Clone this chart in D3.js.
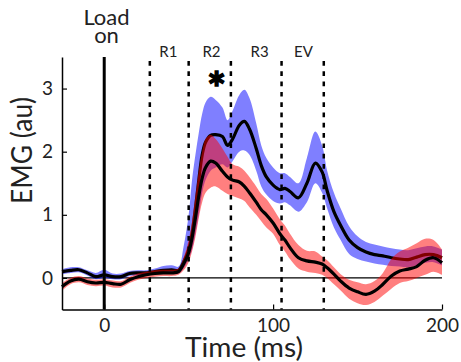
<!DOCTYPE html>
<html>
<head>
<meta charset="utf-8">
<script src="https://cdn.jsdelivr.net/npm/d3@7"></script>
<style>
  body { margin: 0; background: #fff; }
  text { font-family: Lato, 'Open Sans', sans-serif; fill: #222; }
</style>
</head>
<body>
<svg id="chart" width="461" height="362"></svg>
<script>
// time points (ms)
let times = [-25, -20, -15, -10, -5, 0, 5, 10, 15, 20, 25, 30, 35, 40, 44, 47, 50, 52, 54, 56, 58, 60, 63, 66, 70, 73, 76, 80, 83, 86, 90, 93, 96, 100, 104, 107, 110, 115, 120, 125, 129, 132, 136, 140, 145, 150, 155, 160, 165, 170, 175, 180, 185, 190, 195, 200];

// blue condition
let blueMean = [0.10, 0.12, 0.13, 0.08, 0.02, 0.05, 0.02, 0.02, 0.07, 0.08, 0.08, 0.10, 0.12, 0.13, 0.12, 0.25, 0.45, 0.70, 1.10, 1.55, 1.95, 2.15, 2.26, 2.27, 2.24, 2.10, 2.20, 2.42, 2.48, 2.36, 2.05, 1.78, 1.60, 1.47, 1.40, 1.42, 1.37, 1.27, 1.50, 1.82, 1.68, 1.38, 1.05, 0.83, 0.60, 0.48, 0.41, 0.37, 0.35, 0.32, 0.30, 0.29, 0.33, 0.37, 0.37, 0.32];
let blueHi = [0.14, 0.17, 0.17, 0.12, 0.08, 0.13, 0.07, 0.07, 0.11, 0.12, 0.12, 0.15, 0.19, 0.20, 0.18, 0.50, 1.00, 1.55, 1.95, 2.30, 2.60, 2.78, 2.87, 2.82, 2.70, 2.50, 2.65, 2.90, 2.98, 2.85, 2.45, 2.10, 1.90, 1.75, 1.66, 1.66, 1.60, 1.50, 1.90, 2.32, 2.10, 1.70, 1.35, 1.10, 0.82, 0.66, 0.57, 0.53, 0.50, 0.47, 0.45, 0.44, 0.47, 0.50, 0.50, 0.45];
let blueLo = [0.06, 0.08, 0.09, 0.04, -0.02, 0.00, -0.02, -0.02, 0.03, 0.04, 0.04, 0.06, 0.07, 0.08, 0.07, 0.15, 0.30, 0.45, 0.70, 1.00, 1.35, 1.55, 1.70, 1.75, 1.80, 1.75, 1.85, 2.00, 2.02, 1.95, 1.70, 1.45, 1.32, 1.22, 1.18, 1.20, 1.15, 1.05, 1.20, 1.50, 1.35, 1.10, 0.80, 0.60, 0.38, 0.30, 0.26, 0.23, 0.21, 0.19, 0.18, 0.17, 0.20, 0.24, 0.25, 0.20];

// red condition
let redMean = [-0.14, -0.05, -0.02, -0.06, -0.08, -0.07, -0.09, -0.10, -0.03, 0.02, 0.05, 0.07, 0.08, 0.08, 0.10, 0.22, 0.40, 0.63, 0.95, 1.30, 1.58, 1.75, 1.85, 1.82, 1.69, 1.60, 1.55, 1.52, 1.45, 1.35, 1.20, 1.08, 1.00, 0.87, 0.70, 0.60, 0.48, 0.32, 0.27, 0.25, 0.22, 0.16, 0.06, -0.05, -0.16, -0.22, -0.26, -0.21, -0.10, 0.03, 0.11, 0.14, 0.18, 0.28, 0.32, 0.24];
let redHi = [-0.08, 0.00, 0.03, -0.01, -0.03, -0.02, -0.04, -0.05, 0.02, 0.07, 0.10, 0.12, 0.13, 0.13, 0.15, 0.32, 0.60, 0.90, 1.30, 1.70, 2.00, 2.20, 2.27, 2.20, 2.05, 1.92, 1.80, 1.76, 1.70, 1.60, 1.45, 1.33, 1.25, 1.10, 0.93, 0.83, 0.70, 0.52, 0.43, 0.42, 0.34, 0.28, 0.17, 0.06, -0.03, -0.07, -0.10, -0.05, 0.08, 0.30, 0.42, 0.48, 0.55, 0.62, 0.60, 0.45];
let redLo = [-0.20, -0.10, -0.07, -0.11, -0.13, -0.12, -0.15, -0.15, -0.08, -0.03, 0.00, 0.02, 0.03, 0.03, 0.05, 0.12, 0.25, 0.42, 0.65, 0.95, 1.20, 1.35, 1.43, 1.45, 1.38, 1.33, 1.30, 1.26, 1.22, 1.12, 1.00, 0.90, 0.80, 0.70, 0.52, 0.42, 0.30, 0.15, 0.10, 0.08, 0.05, 0.00, -0.10, -0.20, -0.33, -0.40, -0.43, -0.38, -0.28, -0.17, -0.08, -0.05, 0.00, 0.05, 0.10, 0.05];

// window boundaries and labels
let windowLines = [27, 50, 75, 105, 130];
let windowNames = ['R1', 'R2', 'R3', 'EV'];
let windowLabelPos = [38, 63.5, 92, 118];
let starPos = 66.5;

let xTicks = [0, 100, 200];
let yTicks = [0, 1, 2, 3];

const svg = d3.select('#chart');

const x = d3.scaleLinear().domain([-25, 200]).range([62, 442]);
const y = d3.scaleLinear().domain([-0.5, 3.5]).range([309.5, 57]);

function series(mean, lo, hi) {
  return times.map((t, i) => ({ t: t, m: mean[i], lo: lo[i], hi: hi[i] }));
}

const band = d3.area()
  .x((d) => x(d.t))
  .y0((d) => y(d.lo))
  .y1((d) => y(d.hi))
  .curve(d3.curveCatmullRom);

const line = d3.line()
  .x((d) => x(d.t))
  .y((d) => y(d.m))
  .curve(d3.curveCatmullRom);

let blue = series(blueMean, blueLo, blueHi);
let red = series(redMean, redLo, redHi);

// zero line
svg.append('line')
  .attr('x1', x(-25))
  .attr('x2', x(200))
  .attr('y1', y(0))
  .attr('y2', y(0))
  .style('stroke', '#000')
  .style('stroke-width', 1.2);

// blue band + mean, then red band on top (gives the purple and dark red)
svg.append('path')
  .attr('d', band(blue))
  .style('fill', 'rgb(0,0,255)')
  .style('fill-opacity', 0.5);

svg.append('path')
  .attr('d', line(blue))
  .style('fill', 'none')
  .style('stroke', '#000')
  .style('stroke-width', 3.2);

svg.append('path')
  .attr('d', band(red))
  .style('fill', 'rgb(255,0,0)')
  .style('fill-opacity', 0.5);

svg.append('path')
  .attr('d', line(red))
  .style('fill', 'none')
  .style('stroke', '#000')
  .style('stroke-width', 3.2);

// dashed window lines
svg.selectAll('.win')
  .data(windowLines)
  .join('line')
  .attr('class', 'win')
  .attr('x1', (d) => x(d))
  .attr('x2', (d) => x(d))
  .attr('y1', 61)
  .attr('y2', y(-0.5))
  .style('stroke', '#000')
  .style('stroke-width', 2.5)
  .style('stroke-dasharray', '4.7,5.6');

svg.selectAll('.winlabel')
  .data(windowNames)
  .join('text')
  .attr('class', 'winlabel')
  .attr('x', (d, i) => x(windowLabelPos[i]))
  .attr('y', 57)
  .attr('text-anchor', 'middle')
  .style('font-size', '15px')
  .text((d) => d);

svg.append('text')
  .attr('x', x(starPos))
  .attr('y', 104)
  .attr('text-anchor', 'middle')
  .style('font-size', '44px')
  .style('font-weight', 'bold')
  .style('fill', '#000')
  .style('stroke', '#000')
  .style('stroke-width', 1.6)
  .text('*');

// load on line
svg.append('line')
  .attr('x1', x(0))
  .attr('x2', x(0))
  .attr('y1', y(3.5))
  .attr('y2', y(-0.5))
  .style('stroke', '#000')
  .style('stroke-width', 3);

svg.append('text')
  .attr('x', 106.5)
  .attr('y', 25)
  .attr('text-anchor', 'middle')
  .style('font-size', '22px')
  .text('Load');

svg.append('text')
  .attr('x', 106.5)
  .attr('y', 43)
  .attr('text-anchor', 'middle')
  .style('font-size', '22px')
  .text('on');

// axes
const yAxis = d3.axisLeft(y).tickValues(yTicks).tickFormat(d3.format('d'))
  .tickSizeInner(-5).tickSizeOuter(0).tickPadding(9);
const xAxis = d3.axisBottom(x).tickValues(xTicks).tickFormat(d3.format('d'))
  .tickSizeInner(-5).tickSizeOuter(0).tickPadding(9);

const gy = svg.append('g').attr('transform', `translate(${x(-25)},0)`).call(yAxis);
const gx = svg.append('g').attr('transform', `translate(0,${y(-0.5)})`).call(xAxis);

[gx, gy].forEach((g) => {
  g.select('.domain').style('stroke', '#000').style('stroke-width', 1.5);
  g.selectAll('.tick line').style('stroke', '#000').style('stroke-width', 1.2);
  g.selectAll('.tick text')
    .style('font-family', 'Lato, sans-serif')
    .style('font-size', '19px')
    .style('fill', '#222');
});

svg.append('text')
  .attr('transform', 'translate(32,150.5) rotate(-90)')
  .attr('text-anchor', 'middle')
  .attr('textLength', 107)
  .attr('lengthAdjust', 'spacingAndGlyphs')
  .style('font-size', '28px')
  .text('EMG (au)');

svg.append('text')
  .attr('x', 244)
  .attr('y', 357)
  .attr('text-anchor', 'middle')
  .attr('textLength', 118)
  .attr('lengthAdjust', 'spacingAndGlyphs')
  .style('font-size', '27px')
  .text('Time (ms)');
</script>
</body>
</html>
